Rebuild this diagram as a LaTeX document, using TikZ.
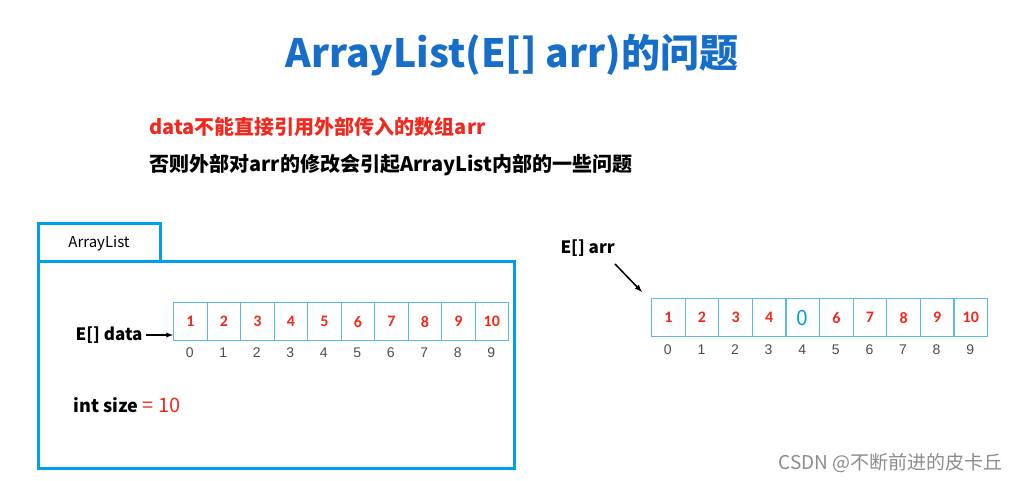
\documentclass[tikz,border=0pt]{standalone}
\usepackage{fontspec}
\setmainfont{Carlito}
\newfontfamily\cjk{Noto Sans CJK SC}
\newfontfamily\idx{Liberation Sans}
\definecolor{tblue}{RGB}{23,110,200}
\definecolor{bblue}{RGB}{0,160,233}
\definecolor{cblue}{RGB}{90,185,230}
\definecolor{rred}{RGB}{240,40,30}
\begin{document}
\begin{tikzpicture}[x=1pt,y=-1pt,
  cell/.style={draw=cblue,line width=1.2pt,minimum width=33.5pt,minimum height=38pt,inner sep=0pt,anchor=north west,text=rred,font=\bfseries\fontsize{16}{16}\selectfont},
  ix/.style={text=black!70,font=\idx\fontsize{14}{14}\selectfont},
  lbl/.style={font=\cjk\bfseries\fontsize{20}{20}\selectfont,anchor=west},
  frame/.style={draw=bblue,line width=3pt}]
\useasboundingbox (0,0) rectangle (1021,481);
\node[font=\cjk\bfseries\fontsize{39}{39}\selectfont,text=tblue] (title) at (512,55) {ArrayList(E[] arr)的问题};
\node[lbl,text=rred] (l1) at (146,127) {data不能直接引用外部传入的数组arr};
\node[lbl] (l2) at (146,165) {否则外部对arr的修改会引起ArrayList内部的一些问题};
\draw[frame] (38,262) rectangle (514,468);
\draw[frame] (38,224) rectangle (160,262);
\node[font=\cjk\fontsize{15}{15}\selectfont] (tab) at (99,243) {ArrayList};
\foreach \v [count=\i from 0] in {1,2,3,4,5,6,7,8,9,10}{
  \node[cell] (a\i) at (173+33.5*\i,302) {\v};
  \node[ix] (ai\i) at (173+33.5*\i+16.75,353) {\i};
}
\node[lbl,anchor=east,font=\cjk\bfseries\fontsize{17}{17}\selectfont] (edata) at (146,335) {E[] data};
\draw[-latex,line width=1.3pt] (edata.east) -- (a0.west|-edata.east);
\node[lbl,font=\cjk\bfseries\fontsize{18}{18}\selectfont] (isize) at (70,405) {int size \textcolor{rred}{\mdseries\fontsize{20}{20}\selectfont= 10}};
\foreach \v [count=\i from 0] in {1,2,3,4,{\textcolor{bblue}{\cjk\mdseries\fontsize{21}{21}\selectfont 0}},6,7,8,9,10}{
  \node[cell] (b\i) at (651+33.6*\i,298) {\v};
  \node[ix] (bi\i) at (651+33.6*\i+16.8,350) {\i};
}
\node[lbl,font=\cjk\bfseries\fontsize{17}{17}\selectfont] (earr) at (557,248) {E[] arr};
\coordinate (as) at (615,264);
\coordinate (ae) at (642,292);
\draw[-latex,line width=1.5pt] (as) -- (ae);
\node[font=\cjk\fontsize{19}{19}\selectfont,text=black!45,anchor=east] (wm) at (1006,463) {CSDN @不断前进的皮卡丘};
\end{tikzpicture}
\end{document}
